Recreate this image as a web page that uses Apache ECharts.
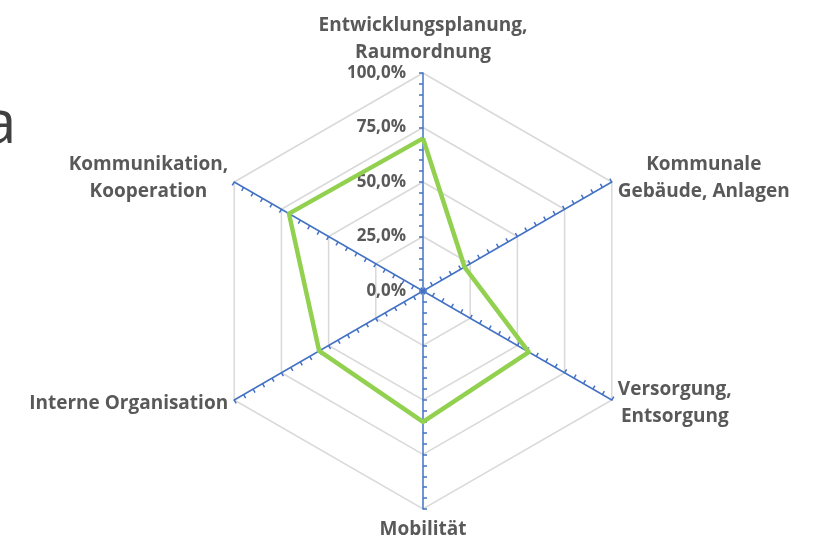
<!DOCTYPE html>
<html>
<head>
<meta charset="utf-8">
<script src="https://cdn.jsdelivr.net/npm/echarts@6/dist/echarts.min.js"></script>
<style>
  html, body { margin: 0; padding: 0; background: #fff; }
  #chart { width: 820px; height: 541px; }
</style>
</head>
<body>
<div id="chart"></div>
<script>
// axes listed in ECharts order (counter-clockwise from the top)
var axisNames = [
  'Entwicklungsplanung,\nRaumordnung',
  'Kommunikation,\nKooperation',
  'Interne Organisation',
  'Mobilität',
  'Versorgung,\nEntsorgung',
  'Kommunale\nGebäude, Anlagen'
];
var values = [70, 71, 55, 60, 56, 22];
var maxValue = 100;

var chart = echarts.init(document.getElementById('chart'));

function pct(v) {
  return v.toFixed(1).replace('.', ',') + '%';
}

var indicators = axisNames.map(function(n, i) {
  var ind = { name: n, max: maxValue, min: 0 };
  ind.axisLabel = { show: i === 0 };
  ind.minorTick = {
    show: true,
    splitNumber: 5,
    length: 4,
    lineStyle: { color: '#4472C4', width: 1.5 }
  };
  return ind;
});

var option = {
  animation: false,
  title: {
    text: 'a',
    left: -22,
    top: 91,
    textStyle: { fontSize: 60, fontWeight: 'normal', color: '#404040', fontFamily: 'Open Sans' }
  },
  radar: {
    center: [423, 291],
    radius: 218,
    splitNumber: 4,
    shape: 'polygon',
    indicator: indicators,
    axisName: {
      color: '#595959',
      fontFamily: 'Open Sans',
      fontWeight: 'bold',
      fontSize: 19,
      formatter: function(n) {
        return n.split('\n').map(function(s) { return '{c|' + s + '}'; }).join('\n');
      },
      rich: {
        c: { align: 'center', color: '#595959', fontFamily: 'Open Sans', fontWeight: 'bold', fontSize: 19, lineHeight: 27 }
      }
    },
    nameGap: 7,
    axisLine: { lineStyle: { color: '#4472C4', width: 1.5 } },
    axisTick: { show: true, length: 4, lineStyle: { color: '#4472C4', width: 1.5 } },
    axisLabel: {
      show: false,
      color: '#595959',
      fontFamily: 'Open Sans',
      fontWeight: 'bold',
      fontSize: 17,
      margin: 17,
      formatter: pct
    },
    splitLine: { lineStyle: { color: '#D9D9D9', width: 1.5 } },
    splitArea: { show: false }
  },
  series: [{
    type: 'radar',
    symbol: 'none',
    lineStyle: { color: '#92D050', width: 4.5 },
    data: [{ value: values }]
  }]
};

chart.setOption(option);
</script>
</body>
</html>
